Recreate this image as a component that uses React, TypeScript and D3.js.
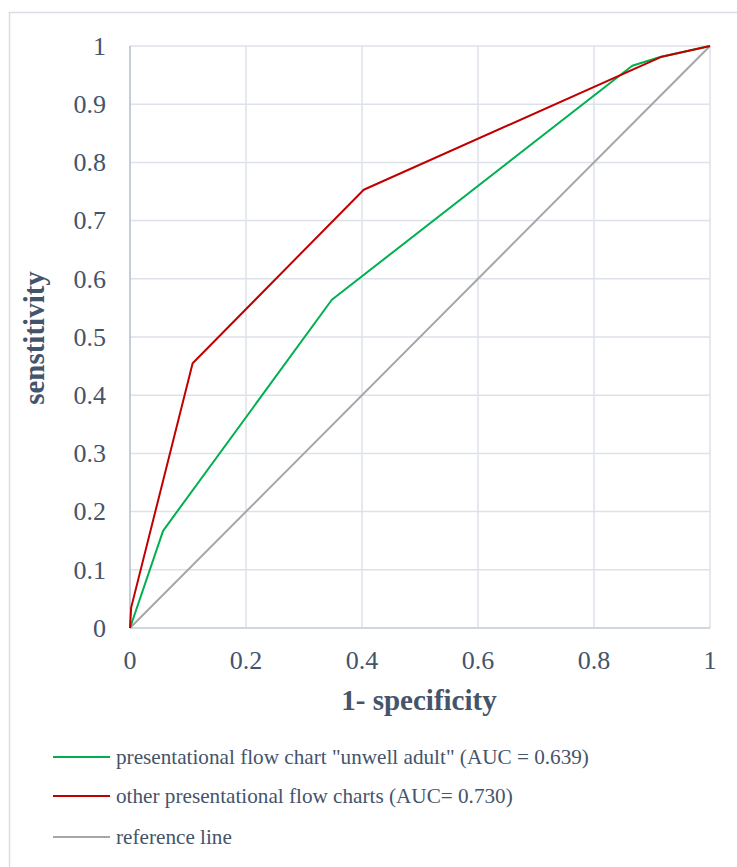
import React from "react";
import * as d3 from "d3";

const xTicks = [0, 0.2, 0.4, 0.6, 0.8, 1];
const yTicks = [0, 0.1, 0.2, 0.3, 0.4, 0.5, 0.6, 0.7, 0.8, 0.9, 1];
const xGrid = [0, 0.2, 0.4, 0.6, 0.8, 1];

const unwellX = [0, 0.057, 0.348, 0.866, 0.914, 1];
const unwellY = [0, 0.167, 0.564, 0.966, 0.981, 1];

const otherX = [0, 0.002, 0.108, 0.403, 0.915, 1];
const otherY = [0, 0.035, 0.455, 0.753, 0.981, 1];

const refX = [0, 1];
const refY = [0, 1];

const seriesNames = [
  'presentational flow chart "unwell adult" (AUC = 0.639)',
  "other presentational flow charts (AUC= 0.730)",
  "reference line",
];
const seriesColors = ["#00b050", "#c00000", "#a6a6a6"];

const W = 737;
const H = 867;
const textColor = "#44546a";
const font = "'Liberation Serif', 'Times New Roman', serif";

export default function App() {
  const x = d3.scaleLinear().domain([0, 1]).range([130, 710]);
  const y = d3.scaleLinear().domain([0, 1]).range([628, 46]);
  const line = d3
    .line<[number, number]>()
    .x((d) => x(d[0]))
    .y((d) => y(d[1]));
  const series = [
    unwellX.map((v, i) => [v, unwellY[i]] as [number, number]),
    otherX.map((v, i) => [v, otherY[i]] as [number, number]),
    refX.map((v, i) => [v, refY[i]] as [number, number]),
  ];
  const drawOrder = [2, 0, 1];
  const legendY = [757, 796, 837];

  return (
    <svg
      width={W}
      height={H}
      style={{ position: "absolute", left: 0, top: 0, background: "#fff" }}
      fontFamily={font}
    >
      <rect x={9.5} y={12.5} width={W} height={H} fill="#fff" stroke="#d9dde3" strokeWidth={1.5} />
      {/* grid */}
      {yTicks.map((t) => (
        <line key={"gy" + t} x1={x(0)} x2={x(1)} y1={y(t)} y2={y(t)} stroke="#dde2ea" strokeWidth={1.5} />
      ))}
      {xGrid.map((t) => (
        <line key={"gx" + t} x1={x(t)} x2={x(t)} y1={y(0)} y2={y(1)} stroke="#dde2ea" strokeWidth={1.5} />
      ))}
      <line x1={x(0)} x2={x(0)} y1={y(0)} y2={y(1)} stroke="#b8c3d2" strokeWidth={1.5} />
      <line x1={x(0)} x2={x(1)} y1={y(0)} y2={y(0)} stroke="#c8d0dc" strokeWidth={1.5} />
      {/* series */}
      {drawOrder.map((i) => (
        <path
          key={"s" + i}
          d={line(series[i]) || ""}
          fill="none"
          stroke={seriesColors[i]}
          strokeWidth={2}
          strokeLinejoin="round"
        />
      ))}
      {/* y ticks */}
      {yTicks.map((t) => (
        <text
          key={"ty" + t}
          x={106}
          y={y(t)}
          dy="0.34em"
          textAnchor="end"
          fontSize={26}
          fill={textColor}
        >
          {d3.format("~g")(t)}
        </text>
      ))}
      {xTicks.map((t) => (
        <text key={"tx" + t} x={x(t)} y={669} textAnchor="middle" fontSize={26} fill={textColor}>
          {d3.format("~g")(t)}
        </text>
      ))}
      <text x={419} y={710} textAnchor="middle" fontSize={29} fontWeight="bold" fill={textColor}>
        1- specificity
      </text>
      <text
        transform={`translate(44,${338}) rotate(-90)`}
        textAnchor="middle"
        fontSize={29}
        fontWeight="bold"
        fill={textColor}
      >
        senstitivity
      </text>
      {/* legend */}
      {seriesNames.map((n, i) => (
        <g key={"lg" + i}>
          <line x1={53} x2={110} y1={legendY[i]} y2={legendY[i]} stroke={seriesColors[i]} strokeWidth={2} />
          <text x={116} y={legendY[i]} dy="0.33em" fontSize={21.2} fill={textColor}>
            {n}
          </text>
        </g>
      ))}
    </svg>
  );
}
